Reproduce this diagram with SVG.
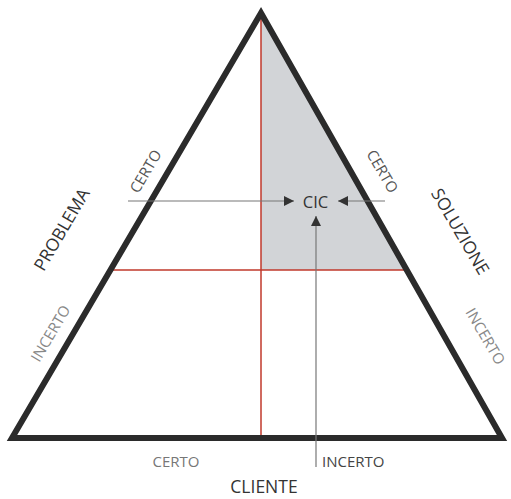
<svg xmlns="http://www.w3.org/2000/svg" width="511" height="499" viewBox="0 0 511 499">
<style>
.lbl{font-family:"Open Sans","Liberation Sans",sans-serif;text-anchor:middle;dominant-baseline:central}
.sm{font-size:15px;fill:#6a6a6a}
.big{font-size:17.5px;fill:#333}
.red{stroke:#c0392b;stroke-width:1.5;fill:none}
.con{stroke:#777;stroke-width:1.2;fill:none}
</style>
<defs>
<marker id="ah" viewBox="0 0 10 10" refX="10" refY="5" markerWidth="10" markerHeight="10" markerUnits="userSpaceOnUse" orient="auto">
<path d="M0,0 L10,5 L0,10 z" fill="#333"/>
</marker>
</defs>
<rect width="511" height="499" fill="#fff"/>
<g id="area">
<polygon points="261,13 261,270 407,270" fill="#d2d4d7"/>
<line class="red" x1="261" y1="16" x2="261" y2="438"/>
<line class="red" x1="110" y1="270" x2="407" y2="270"/>
</g>
<g id="triangle">
<polygon points="261,13 12,438 502,438" fill="none" stroke="#2b2b2b" stroke-width="6" stroke-linejoin="miter"/>
</g>
<g id="connectors">
<line class="con" x1="128" y1="201" x2="294" y2="201" marker-end="url(#ah)"/>
<line class="con" x1="385" y1="201" x2="338" y2="201" marker-end="url(#ah)"/>
<line class="con" x1="316" y1="467" x2="316" y2="216" marker-end="url(#ah)"/>
</g>
<g id="cic"><text class="lbl" x="315.5" y="201" style="font-size:16.5px;fill:#333">CIC</text></g>
<g id="problema">
<text class="lbl big" transform="translate(61,229) rotate(-59.6)">PROBLEMA</text>
<text class="lbl sm" style="fill:#555" transform="translate(145,171) rotate(-59.6)">CERTO</text>
<text class="lbl sm" style="fill:#888" transform="translate(50,333) rotate(-59.6)">INCERTO</text>
</g>
<g id="soluzione">
<text class="lbl big" transform="translate(461,231) rotate(59.6)">SOLUZIONE</text>
<text class="lbl sm" style="fill:#555" transform="translate(383,171) rotate(59.6)">CERTO</text>
<text class="lbl sm" style="fill:#888" transform="translate(486,336) rotate(59.6)">INCERTO</text>
</g>
<g id="cliente">
<text class="lbl sm" x="176" y="461" style="fill:#777">CERTO</text>
<text class="lbl sm" x="322" y="461" style="text-anchor:start;fill:#444">INCERTO</text>
<text class="lbl" x="264" y="486" style="font-size:17.5px;fill:#333">CLIENTE</text>
</g>
</svg>
